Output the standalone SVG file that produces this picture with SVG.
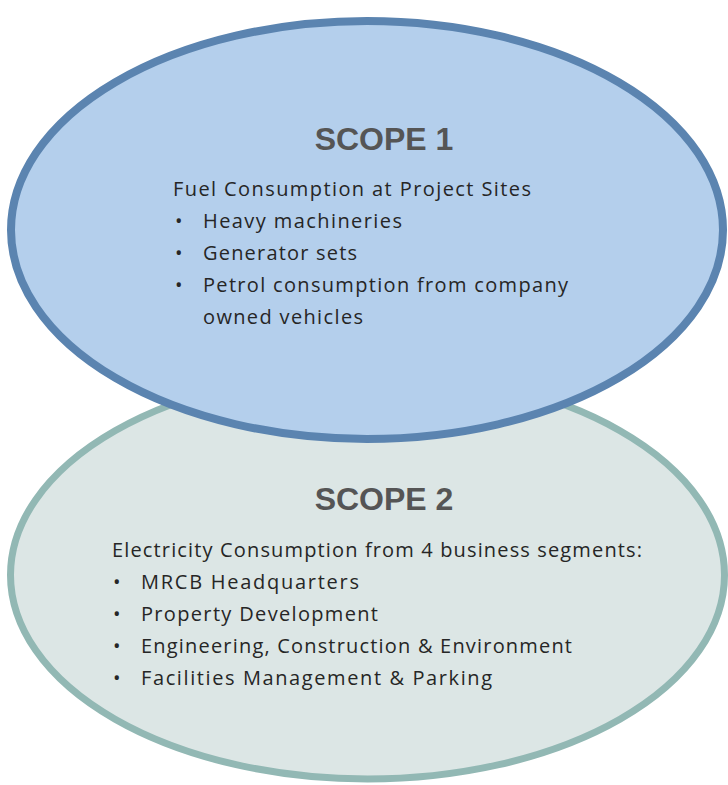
<svg xmlns="http://www.w3.org/2000/svg" width="728" height="785" viewBox="0 0 728 785">
<style>
.t{font-family:"Open Sans","Liberation Sans",Arial,sans-serif;font-size:20px;fill:#262626}
.h{font-family:"Liberation Sans",Arial,sans-serif;font-size:32px;font-weight:bold;fill:#555555;text-anchor:middle}
</style>
<rect width="728" height="785" fill="#ffffff"/>
<g id="scope2">
<ellipse cx="367.5" cy="575" rx="357" ry="204" fill="#dce6e5" stroke="#92b8b4" stroke-width="7"/>
<text class="h" x="384" y="510">SCOPE 2</text>
<text class="t" x="112" y="557" textLength="530" lengthAdjust="spacing">Electricity Consumption from 4 business segments:</text>
<text class="t" x="113" y="589">•</text><text class="t" x="141" y="589" textLength="218" lengthAdjust="spacing">MRCB Headquarters</text>
<text class="t" x="113" y="621">•</text><text class="t" x="141" y="621" textLength="237" lengthAdjust="spacing">Property Development</text>
<text class="t" x="113" y="653">•</text><text class="t" x="141" y="653" textLength="431" lengthAdjust="spacing">Engineering, Construction &amp; Environment</text>
<text class="t" x="113" y="685">•</text><text class="t" x="141" y="685" textLength="351" lengthAdjust="spacing">Facilities Management &amp; Parking</text>
</g>
<g id="scope1">
<ellipse cx="367" cy="230" rx="356" ry="209" fill="#b4cfec" stroke="#5b84b0" stroke-width="8"/>
<text class="h" x="384" y="150">SCOPE 1</text>
<text class="t" x="173" y="196" textLength="358" lengthAdjust="spacing">Fuel Consumption at Project Sites</text>
<text class="t" x="175" y="228">•</text><text class="t" x="203" y="228" textLength="199" lengthAdjust="spacing">Heavy machineries</text>
<text class="t" x="175" y="260">•</text><text class="t" x="203" y="260" textLength="154" lengthAdjust="spacing">Generator sets</text>
<text class="t" x="175" y="292">•</text><text class="t" x="203" y="292" textLength="365" lengthAdjust="spacing">Petrol consumption from company</text>
<text class="t" x="203" y="324" textLength="160" lengthAdjust="spacing">owned vehicles</text>
</g>
<g id="connectors"/>
</svg>
